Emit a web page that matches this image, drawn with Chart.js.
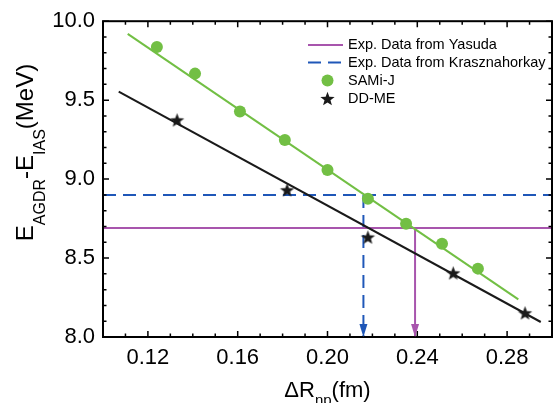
<!DOCTYPE html>
<html>
<head>
<meta charset="utf-8">
<script src="https://cdn.jsdelivr.net/npm/chart.js@4.4.0/dist/chart.umd.min.js"></script>
<style>body{margin:0;background:#fff}</style>
</head>
<body>
<canvas id="c" width="558" height="403"></canvas>
<script>
// SAMi-J results and their linear fit
const samiR = [0.124, 0.141, 0.161, 0.181, 0.200, 0.218, 0.235, 0.251, 0.267];
const samiE = [9.836, 9.668, 9.428, 9.247, 9.058, 8.875, 8.717, 8.591, 8.433];
const samiFitR = [0.111, 0.285];
const samiFitE = [9.92, 8.238];

// DD-ME results and their linear fit
const ddmeR = [0.133, 0.182, 0.218, 0.256, 0.288];
const ddmeE = [9.375, 8.932, 8.633, 8.406, 8.153];
const ddmeFitR = [0.107, 0.295];
const ddmeFitE = [9.554, 8.095];

// experimental values (energy, and where it meets the SAMi-J fit)
const yasudaE = 8.69, yasudaR = 0.239;
const kraszE = 8.90, kraszR = 0.216;

const xTicks = [0.12, 0.16, 0.20, 0.24, 0.28];
const yTicks = [8.0, 8.5, 9.0, 9.5, 10.0];

const GREEN = '#72bf44', PURPLE = '#a855ad', BLUE = '#1f57b8', BLACK = '#1a1a1a';
const FONT = "'Liberation Sans', Arial, sans-serif";

Chart.defaults.font.family = FONT;
Chart.defaults.color = '#000';

function makeStar(r) {
    const s = Math.ceil(r * 2) + 2;
    const c = document.createElement('canvas');
    c.width = s; c.height = s;
    const g = c.getContext('2d');
    g.fillStyle = BLACK;
    g.beginPath();
    for (let i = 0; i < 10; i++) {
        const a = -Math.PI / 2 + i * Math.PI / 5;
        const rr = i % 2 ? r * 0.42 : r;
        g.lineTo(s / 2 + rr * Math.cos(a), s / 2 + rr * Math.sin(a) + r * 0.1);
    }
    g.closePath();
    g.fill();
    return c;
}
const star = makeStar(7.5);

const pts = (xs, ys) => xs.map((x, i) => ({x: x, y: ys[i]}));

// frame, inner ticks, arrows, legend and axis titles
const decor = {
    id: 'decor',
    afterDraw(chart) {
        const ctx = chart.ctx, a = chart.chartArea;
        const xs = chart.scales.x, ys = chart.scales.y;
        ctx.save();
        ctx.strokeStyle = '#000';
        ctx.lineWidth = 2;
        ctx.strokeRect(a.left, a.top, a.right - a.left, a.bottom - a.top);

        ctx.lineWidth = 1.5;
        ctx.beginPath();
        for (let i = 10; i <= 30; i++) {
            const px = xs.getPixelForValue(i / 100);
            const len = (i % 4 === 0) ? 6 : 3.5;
            ctx.moveTo(px, a.bottom); ctx.lineTo(px, a.bottom - len);
            ctx.moveTo(px, a.top); ctx.lineTo(px, a.top + len);
        }
        for (let i = 80; i <= 100; i++) {
            const py = ys.getPixelForValue(i / 10);
            const len = (i % 5 === 0) ? 6 : 3.5;
            ctx.moveTo(a.left, py); ctx.lineTo(a.left + len, py);
            ctx.moveTo(a.right, py); ctx.lineTo(a.right - len, py);
        }
        ctx.stroke();

        // arrow heads at the bottom of the vertical lines
        [[kraszR, BLUE], [yasudaR, PURPLE]].forEach(([r, col]) => {
            const px = xs.getPixelForValue(r), py = ys.getPixelForValue(ys.min);
            ctx.fillStyle = col;
            ctx.beginPath();
            ctx.moveTo(px, py);
            ctx.lineTo(px - 4, py - 13);
            ctx.lineTo(px + 4, py - 13);
            ctx.closePath();
            ctx.fill();
        });

        // legend
        const lx0 = 308, lx1 = 343, tx = 348, rows = [45, 62.5, 80.5, 98.5];
        ctx.lineWidth = 2;
        ctx.strokeStyle = PURPLE;
        ctx.beginPath(); ctx.moveTo(lx0, rows[0]); ctx.lineTo(lx1, rows[0]); ctx.stroke();
        ctx.strokeStyle = BLUE;
        ctx.setLineDash([13, 7]);
        ctx.beginPath(); ctx.moveTo(lx0, rows[1]); ctx.lineTo(lx1, rows[1]); ctx.stroke();
        ctx.setLineDash([]);
        ctx.fillStyle = GREEN;
        ctx.beginPath(); ctx.arc(327.5, rows[2], 6, 0, Math.PI * 2); ctx.fill();
        ctx.drawImage(star, 327.5 - star.width / 2, rows[3] - star.height / 2);
        ctx.fillStyle = '#000';
        ctx.font = '14.5px ' + FONT;
        ctx.textBaseline = 'middle';
        ctx.textAlign = 'left';
        ['Exp. Data from Yasuda', 'Exp. Data from Krasznahorkay', 'SAMi-J', 'DD-ME']
            .forEach((t, i) => ctx.fillText(t, tx, rows[i]));

        // axis titles with subscripts
        ctx.textBaseline = 'alphabetic';
        const drawRich = (parts, big, small, subDy) => {
            let w = 0;
            parts.forEach(p => { ctx.font = (p[1] ? small : big) + 'px ' + FONT; w += ctx.measureText(p[0]).width; });
            let x = -w / 2;
            parts.forEach(p => {
                ctx.font = (p[1] ? small : big) + 'px ' + FONT;
                ctx.fillText(p[0], x, p[1] ? subDy : 0);
                x += ctx.measureText(p[0]).width;
            });
        };
        ctx.save();
        ctx.translate(33, 152.5);
        ctx.rotate(-Math.PI / 2);
        drawRich([['E', 0], ['AGDR', 1], ['-E', 0], ['IAS', 1], ['(MeV)', 0]], 24, 16, 12);
        ctx.restore();
        ctx.save();
        ctx.translate((a.left + a.right) / 2, 397);
        drawRich([['\u0394R', 0], ['np', 1], ['(fm)', 0]], 22, 15, 8);
        ctx.restore();
        ctx.restore();
    }
};

new Chart(document.getElementById('c'), {
    type: 'scatter',
    data: {
        datasets: [
            {
                label: 'SAMi-J', data: pts(samiR, samiE),
                backgroundColor: GREEN, borderColor: GREEN, pointRadius: 6, pointBorderWidth: 0
            },
            {
                label: 'DD-ME', data: pts(ddmeR, ddmeE),
                pointStyle: star, backgroundColor: BLACK, borderColor: BLACK
            },
            {
                type: 'line', data: pts(samiFitR, samiFitE),
                borderColor: GREEN, borderWidth: 2, pointRadius: 0
            },
            {
                type: 'line', data: pts(ddmeFitR, ddmeFitE),
                borderColor: BLACK, borderWidth: 2, pointRadius: 0
            },
            {
                type: 'line', label: 'Exp. Data from Yasuda',
                data: [{x: 0.10, y: yasudaE}, {x: 0.30, y: yasudaE}],
                borderColor: PURPLE, borderWidth: 2, pointRadius: 0
            },
            {
                type: 'line', data: [{x: yasudaR, y: yasudaE}, {x: yasudaR, y: 8.0}],
                borderColor: PURPLE, borderWidth: 2, pointRadius: 0
            },
            {
                type: 'line', label: 'Exp. Data from Krasznahorkay',
                data: [{x: 0.10, y: kraszE}, {x: 0.30, y: kraszE}],
                borderColor: BLUE, borderWidth: 2, borderDash: [13, 7], pointRadius: 0
            },
            {
                type: 'line', data: [{x: kraszR, y: kraszE}, {x: kraszR, y: 8.0}],
                borderColor: BLUE, borderWidth: 2, borderDash: [13, 7], pointRadius: 0
            }
        ]
    },
    options: {
        responsive: false,
        animation: false,
        layout: {padding: {top: 20, right: 1, left: 0, bottom: 0}},
        plugins: {legend: {display: false}, tooltip: {enabled: false}},
        scales: {
            x: {
                type: 'linear', min: 0.10, max: 0.30,
                grid: {display: false, drawTicks: false},
                border: {display: false},
                afterBuildTicks: s => { s.ticks = xTicks.map(v => ({value: v})); },
                afterFit: s => { s.height = 66; },
                ticks: {font: {size: 22}, padding: 8, maxRotation: 0, callback: v => v.toFixed(2)}
            },
            y: {
                type: 'linear', min: 8.0, max: 10.0,
                grid: {display: false, drawTicks: false},
                border: {display: false},
                afterBuildTicks: s => { s.ticks = yTicks.map(v => ({value: v})); },
                afterFit: s => { s.width = 103; },
                ticks: {font: {size: 22}, padding: 8, callback: v => v.toFixed(1)}
            }
        }
    },
    plugins: [decor]
});
</script>
</body>
</html>
